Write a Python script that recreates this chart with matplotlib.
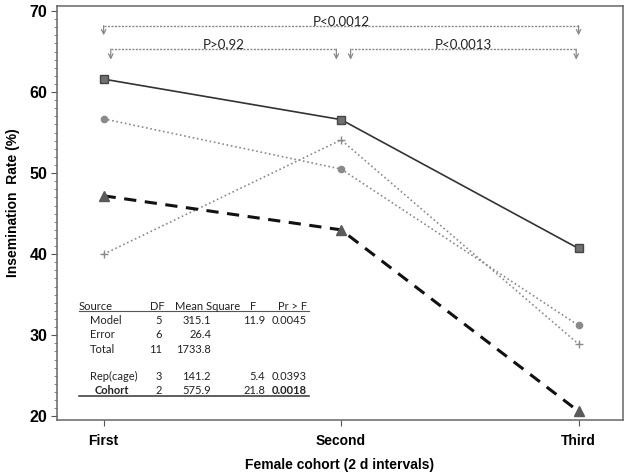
import numpy as np
import matplotlib.pyplot as plt
from matplotlib.ticker import MultipleLocator

cohorts = ['First', 'Second', 'Third']
rate_square = [61.6, 56.6, 40.7]
rate_circle = [56.7, 50.5, 31.2]
rate_plus = [40.0, 54.1, 28.9]
rate_triangle = [47.2, 43.0, 20.6]

# pairwise comparisons: (from, to, label)
comparisons = [(0, 2, 'P<0.0012'), (0.03, 0.98, 'P>0.92'), (1.04, 1.99, 'P<0.0013')]

anova_rows = [
    ('Source', 'DF', 'Mean Square', 'F', 'Pr > F'),
    ('Model', '5', '315.1', '11.9', '0.0045'),
    ('Error', '6', '26.4', '', ''),
    ('Total', '11', '1733.8', '', ''),
    ('Rep(cage)', '3', '141.2', '5.4', '0.0393'),
    ('Cohort', '2', '575.9', '21.8', '0.0018'),
]

fig = plt.figure(figsize=(6.29, 4.75), dpi=100)
ax = fig.add_axes([0.0911, 0.116, 0.899, 0.871])
x = np.arange(len(cohorts))

ax.plot(x, rate_square, '-', color='#333333', lw=1.2, marker='s', ms=6,
        mfc='#707070', mec='#454545', zorder=4)
ax.plot(x, rate_circle, color='#8a8a8a', lw=1.2, ls=(0, (1, 1.6)), marker='o', ms=4.5,
        mfc='#8a8a8a', mec='#8a8a8a', zorder=3)
ax.plot(x, rate_plus, color='#8a8a8a', lw=1.2, ls=(0, (1, 1.6)), marker='+', ms=5.5,
        mec='#8a8a8a', zorder=3)
ax.plot(x, rate_triangle, '--', color='#111111', lw=2.2, dashes=(4, 2.8),
        marker='^', ms=6.5, mfc='#5a5a5a', mec='#5a5a5a', zorder=4)

ax.set_xlim(-0.195, 2.186)
ax.set_ylim(19.55, 70.6)
ax.set_xticks(x)
ax.set_xticklabels(cohorts, fontsize=10, fontweight='bold', family='Liberation Sans')
ax.set_yticks([20, 30, 40, 50, 60, 70])
ax.yaxis.set_minor_locator(MultipleLocator(1))
for lab in ax.get_yticklabels():
    lab.set_fontsize(11.5)
    lab.set_fontweight('bold')
    lab.set_family('Liberation Sans')
ax.tick_params(axis='both', which='major', length=4, width=0.8, color='#555555', pad=3)
ax.tick_params(axis='y', which='minor', length=2, width=0.6, color='#777777')
ax.tick_params(axis='x', which='major', pad=6)
for s in ax.spines.values():
    s.set_color('#666666')
    s.set_linewidth(1.1)

ax.set_xlabel('Female cohort (2 d intervals)', fontsize=10, fontweight='bold',
              family='Liberation Sans', labelpad=7)
ax.set_ylabel('Insemination  Rate (%)', fontsize=10, fontweight='bold',
              family='Liberation Sans')
ax.yaxis.set_label_coords(-0.066, 0.525)

# comparison brackets
levels = [(68.2, 67.0), (65.3, 64.0), (65.3, 64.0)]
for (x0, x1, lab), (yl, yt) in zip(comparisons, levels):
    ax.plot([x0, x1], [yl, yl], ls=(0, (1.5, 1)), color='#888888', lw=1.0)
    for xe in (x0, x1):
        ax.annotate('', xy=(xe, yt), xytext=(xe, yl),
                    arrowprops=dict(arrowstyle='->', color='#888888', lw=0.9,
                                    shrinkA=0, shrinkB=0, mutation_scale=8))
    ax.text((x0 + x1) / 2, yl - 0.25, lab, ha='center', va='bottom',
            fontsize=9.5, family='Lato', color='#222222')

# ANOVA table (axes fraction positions)
def fx(px):
    return (px - 57.3) / 565.4

def fy(py):
    return (420 - py) / 414.0

row_y = [306.5, 320.5, 334.5, 349.5, 377, 390.5]
col_x = [(79, 'left'), (162, 'right'), (211, 'right'), (265, 'right'), (307, 'right')]
for i, (row, py) in enumerate(zip(anova_rows, row_y)):
    for j, (txt, (px, ha)) in enumerate(zip(row, col_x)):
        if txt == '':
            continue
        xx = px
        if i > 0 and j == 0:
            xx = 90 if i != 5 else 95
        if i == 0 and j == 1:
            xx, ha = 157, 'center'
        if i == 0 and j == 2:
            xx, ha = 175, 'left'
        if i == 0 and j == 3:
            xx, ha = 253, 'center'
        bold = (i == 5 and j in (0, 4))
        ax.text(fx(xx), fy(py), txt, transform=ax.transAxes, ha=ha, va='center',
                fontsize=8, family='Lato', color='#222222',
                fontweight='bold' if bold else 'normal')

ax.plot([fx(79), fx(309)], [fy(311), fy(311)], transform=ax.transAxes,
        color='#555555', lw=0.8)
ax.plot([fx(79), fx(309)], [fy(396), fy(396)], transform=ax.transAxes,
        color='#333333', lw=1.1)

fig.savefig('out.png', dpi=100)
